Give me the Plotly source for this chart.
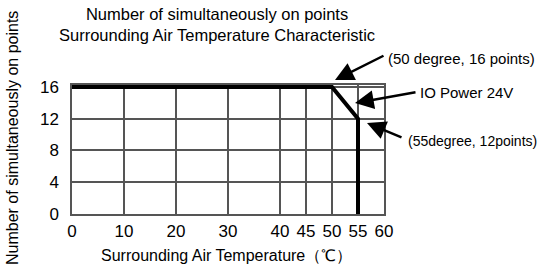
import plotly.graph_objects as go

# Data
temps = [0, 50, 55, 55]
points = [16, 16, 12, 0]
x_ticks = [0, 10, 20, 30, 40, 45, 50, 55, 60]
y_ticks = [0, 4, 8, 12, 16]

FONT = "Arial, Liberation Sans, sans-serif"
L, R, T, B = 72, 158, 85, 57
W, H = 542, 271
PW, PH = W - L - R, H - T - B

def px(xp):
    return (xp - L) / PW

def py(yp):
    return (T + PH - yp) / PH

fig = go.Figure()
fig.add_trace(go.Scatter(x=temps, y=points, mode="lines",
                         line=dict(color="black", width=4), showlegend=False,
                         hoverinfo="skip"))

grid_col = "#555555"
fig.update_xaxes(range=[0, 60], tickvals=x_ticks, ticktext=[str(v) for v in x_ticks],
                 showgrid=True, gridcolor=grid_col, gridwidth=1.5,
                 showline=True, linecolor=grid_col, linewidth=1.5, mirror=True,
                 zeroline=False, ticks="", ticklabelstandoff=1,
                 tickfont=dict(family=FONT, size=17, color="black"))
fig.update_yaxes(range=[0, 16.25], tickvals=y_ticks, ticktext=[str(v) for v in y_ticks],
                 showgrid=True, gridcolor=grid_col, gridwidth=1.5,
                 showline=True, linecolor=grid_col, linewidth=1.5, mirror=True,
                 zeroline=False, ticks="", ticklabelstandoff=8,
                 tickfont=dict(family=FONT, size=17, color="black"))

ann = []
# Title
ann.append(dict(xref="paper", yref="paper", x=px(217), y=py(24), showarrow=False,
                text="Number of simultaneously on points<br>Surrounding Air Temperature Characteristic",
                font=dict(family=FONT, size=16.5, color="black"), xanchor="center", yanchor="middle"))
# Y title
ann.append(dict(xref="paper", yref="paper", x=px(12), y=py(138), showarrow=False, textangle=-90,
                text="Number of simultaneously on points",
                font=dict(family=FONT, size=16, color="black"), xanchor="center", yanchor="middle"))
# X title
ann.append(dict(xref="paper", yref="paper", x=px(226), y=py(255), showarrow=False,
                text="Surrounding Air Temperature（℃）",
                font=dict(family=FONT, size=16, color="black"), xanchor="center", yanchor="middle"))

# Callout labels
labels = [("(50 degree, 16 points)", 386, 58, 15),
          ("IO Power 24V", 418, 92, 15),
          ("(55degree, 12points)", 406, 141, 14)]
for t, xp, yp, fs in labels:
    ann.append(dict(xref="paper", yref="paper", x=px(xp), y=py(yp), showarrow=False, text=t,
                    font=dict(family=FONT, size=fs, color="black"), xanchor="left", yanchor="middle"))

# Arrows (head position in pixels, tail position in pixels)
arrows = [((335, 80), (385, 55)),
          ((355, 103), (417, 92)),
          ((367, 123), (403, 138))]
for (hx, hy), (tx, ty) in arrows:
    ann.append(dict(xref="paper", yref="paper", x=px(hx), y=py(hy), ax=tx - hx, ay=ty - hy,
                    text="", showarrow=True, arrowhead=2, arrowsize=1.5, arrowwidth=2.5,
                    arrowcolor="black"))

fig.update_layout(width=W, height=H, margin=dict(l=L, r=R, t=T, b=B),
                  plot_bgcolor="white", paper_bgcolor="white", annotations=ann)

fig.write_html("out.html", config={"displayModeBar": False},
               post_script="document.body.style.margin='0';document.body.style.overflow='hidden';")
